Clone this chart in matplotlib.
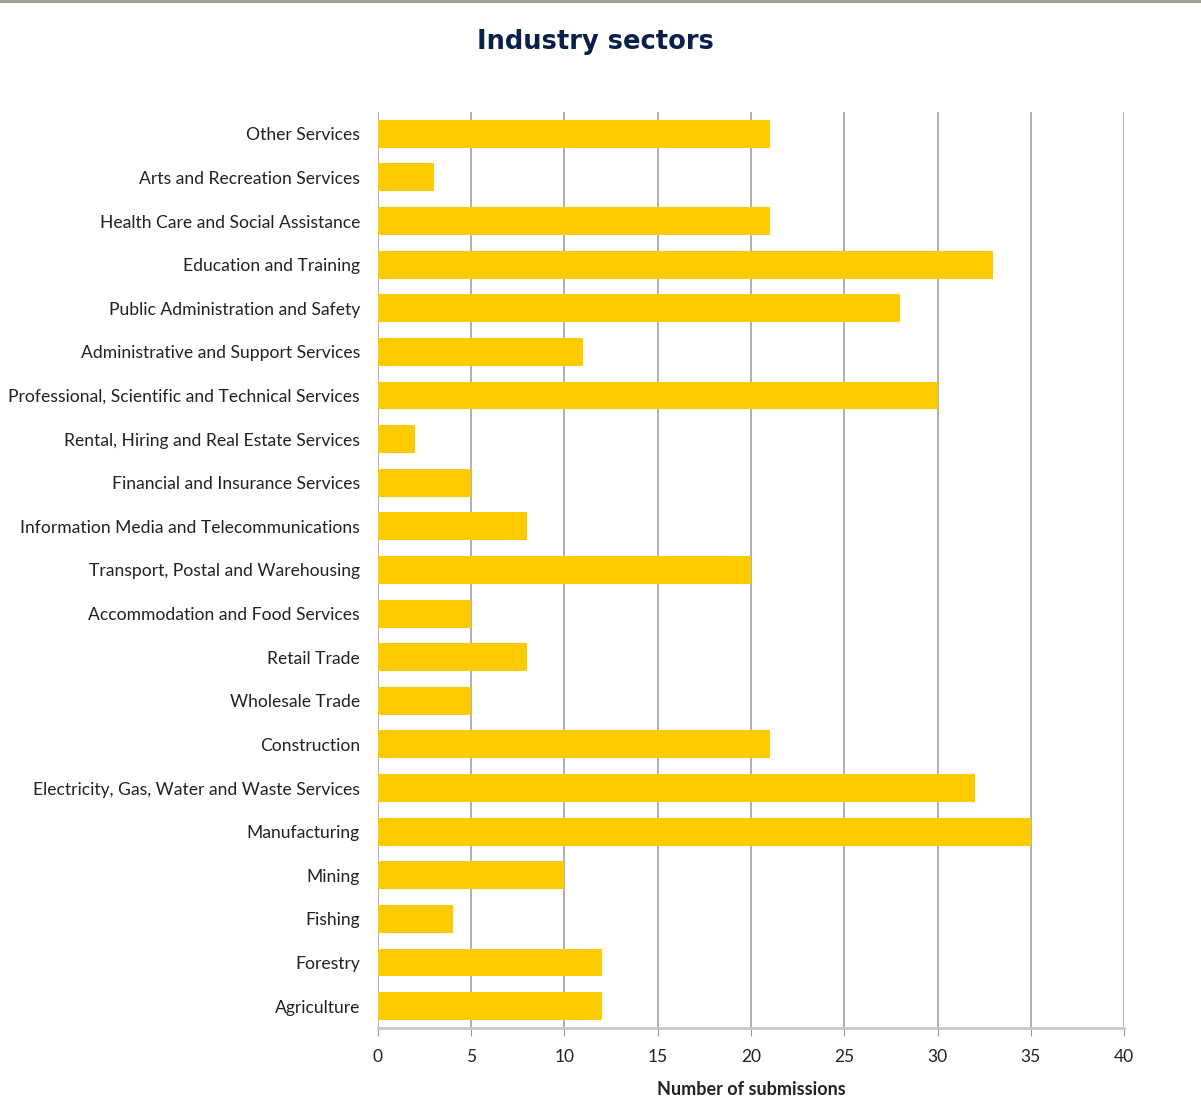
import matplotlib
matplotlib.use("Agg")
import matplotlib.pyplot as plt

sectors = [
    "Other Services", "Arts and Recreation Services", "Health Care and Social Assistance",
    "Education and Training", "Public Administration and Safety",
    "Administrative and Support Services", "Professional, Scientific and Technical Services",
    "Rental, Hiring and Real Estate Services", "Financial and Insurance Services",
    "Information Media and Telecommunications", "Transport, Postal and Warehousing",
    "Accommodation and Food Services", "Retail Trade", "Wholesale Trade", "Construction",
    "Electricity, Gas, Water and Waste Services", "Manufacturing", "Mining", "Fishing",
    "Forestry", "Agriculture",
]
submissions = [21, 3, 21, 33, 28, 11, 30, 2, 5, 8, 20, 5, 8, 5, 21, 32, 35, 10, 4, 12, 12]
xticks = [0, 5, 10, 15, 20, 25, 30, 35, 40]

fig = plt.figure(figsize=(12.01, 11.02), dpi=100)
ax = fig.add_axes([0.3147, 0.0672, 0.6212, 0.8312])

ypos = list(range(len(sectors)))[::-1]
ax.barh(ypos, submissions, height=0.64, color="#fecb00", zorder=3)

ax.set_xlim(0, 40)
ax.set_ylim(-0.5, len(sectors) - 0.5)
ax.set_xticks(xticks)
ax.set_xticklabels([str(t) for t in xticks], fontsize=12.5, family="Lato", color="#222222")
ax.set_yticks(ypos)
ax.set_yticklabels(sectors, fontsize=12.6, family="Lato", color="#222222")
ax.tick_params(axis="y", length=0, pad=13)
ax.tick_params(axis="x", length=6, color="#999999", pad=9)

ax.grid(axis="x", color="#9a9a9a", lw=1.1, zorder=0)
for s in ["top", "right", "left"]:
    ax.spines[s].set_visible(False)
ax.spines["bottom"].set_color("#c8c8c8")
ax.spines["bottom"].set_linewidth(2)

ax.set_xlabel("Number of submissions", fontsize=13, family="Lato",
              fontweight="bold", color="#222222", labelpad=12)

fig.text(0.496, 0.962, "Industry sectors", ha="center", va="center",
         fontsize=18.5, fontweight="bold", color="#0b1f4b", family="DejaVu Sans")

# grey strip along the top edge
fig.add_artist(plt.Line2D([0, 1], [0.999, 0.999], color="#a0a09a", lw=3,
                          transform=fig.transFigure))

fig.savefig("out.png", dpi=100, facecolor="white")
